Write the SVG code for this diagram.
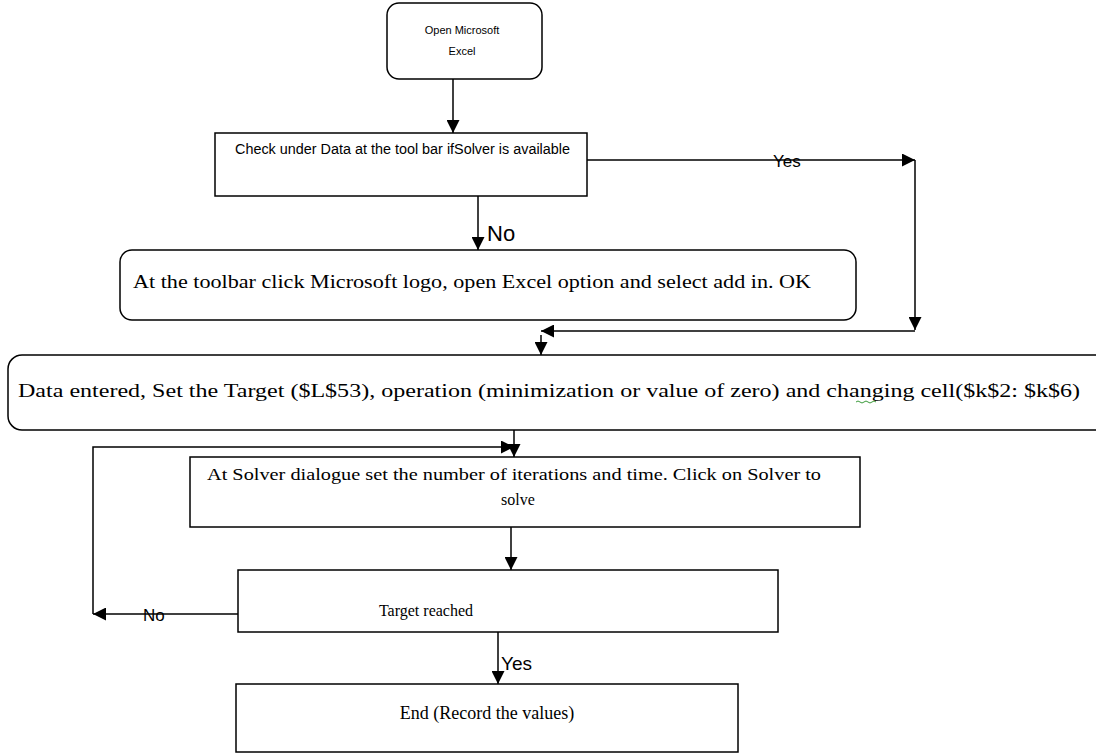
<svg xmlns="http://www.w3.org/2000/svg" width="1096" height="756" viewBox="0 0 1096 756">
<style>
.box{fill:#fff;stroke:#000;stroke-width:1.5}
.ln{fill:none;stroke:#000;stroke-width:1.5}
.sans{font-family:"Liberation Sans",Arial,sans-serif;fill:#000}
.serif{font-family:"Liberation Serif","Times New Roman",serif;fill:#000}
</style>
<defs>
<marker id="ah" viewBox="0 0 10 10" refX="10" refY="5" markerWidth="13" markerHeight="13" markerUnits="userSpaceOnUse" orient="auto">
<path d="M0,0 L10,5 L0,10 z" fill="#000"/>
</marker>
</defs>
<rect width="1096" height="756" fill="#fff"/>
<g id="connectors">
<line class="ln" x1="453" y1="79" x2="453" y2="133" marker-end="url(#ah)"/>
<line class="ln" x1="587" y1="160" x2="915" y2="160" marker-end="url(#ah)"/>
<line class="ln" x1="915" y1="160" x2="915" y2="330" marker-end="url(#ah)"/>
<line class="ln" x1="915" y1="331" x2="541" y2="331" marker-end="url(#ah)"/>
<line class="ln" x1="541" y1="335" x2="541" y2="355" marker-end="url(#ah)"/>
<line class="ln" x1="478" y1="196" x2="478" y2="250" marker-end="url(#ah)"/>
<line class="ln" x1="514" y1="430" x2="514" y2="457" marker-end="url(#ah)"/>
<polyline class="ln" points="93,614 93,447 514,447" marker-end="url(#ah)"/>
<line class="ln" x1="238" y1="614" x2="93" y2="614" marker-end="url(#ah)"/>
<line class="ln" x1="511" y1="527" x2="511" y2="570" marker-end="url(#ah)"/>
<line class="ln" x1="498" y1="632" x2="498" y2="684" marker-end="url(#ah)"/>
<text class="sans" x="773" y="167" font-size="17">Yes</text>
<text class="sans" x="487" y="241" font-size="22">No</text>
<text class="sans" x="143" y="621" font-size="17">No</text>
<text class="sans" x="501" y="670" font-size="19">Yes</text>
</g>
<g id="n1">
<rect class="box" x="387" y="3" width="155" height="76" rx="12"/>
<text class="sans" x="462" y="34" font-size="11" text-anchor="middle">Open Microsoft</text>
<text class="sans" x="462" y="55" font-size="11" text-anchor="middle">Excel</text>
</g>
<g id="n2">
<rect class="box" x="215" y="133" width="372" height="63"/>
<text class="sans" x="235" y="154" font-size="14" textLength="335" lengthAdjust="spacingAndGlyphs">Check under Data at the tool bar ifSolver is available</text>
</g>
<g id="n3">
<rect class="box" x="120" y="250" width="736" height="70" rx="12"/>
<text class="serif" x="133" y="288" font-size="18" textLength="678" lengthAdjust="spacingAndGlyphs">At the toolbar click Microsoft logo, open Excel option and select add in. OK</text>
</g>
<g id="n4">
<rect class="box" x="8" y="355" width="1110" height="75" rx="14"/>
<text class="serif" x="18" y="397" font-size="19" textLength="1062" lengthAdjust="spacingAndGlyphs">Data entered, Set the Target ($L$53), operation (minimization  or value of zero) and changing cell($k$2: $k$6)</text>
<path d="M856,402 q2,-2 4,0 t4,0 t4,0 t4,0 t4,0" fill="none" stroke="#3a9a3a" stroke-width="1"/>
</g>
<g id="n5">
<rect class="box" x="190" y="457" width="670" height="70"/>
<text class="serif" x="207" y="480" font-size="16" textLength="614" lengthAdjust="spacingAndGlyphs">At Solver dialogue set the number of iterations and time. Click on Solver to</text>
<text class="serif" x="518" y="505" font-size="16" text-anchor="middle">solve</text>
</g>
<g id="n6">
<rect class="box" x="238" y="570" width="540" height="62"/>
<text class="serif" x="426" y="616" font-size="16" text-anchor="middle">Target reached</text>
</g>
<g id="n7">
<rect class="box" x="236" y="684" width="502" height="68"/>
<text class="serif" x="487" y="719" font-size="18" text-anchor="middle">End (Record the values)</text>
</g>
</svg>
